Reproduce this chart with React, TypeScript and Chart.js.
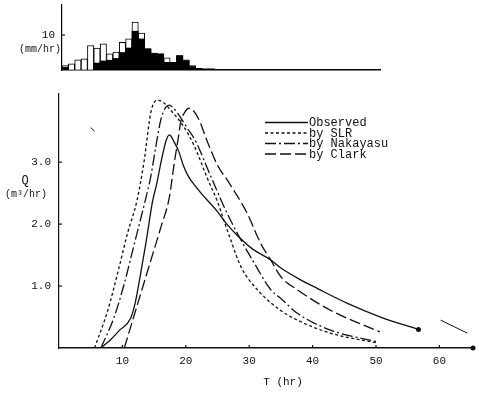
import React, { useEffect, useRef } from 'react';
import { Chart, registerables } from 'chart.js';

Chart.register(...registerables);

const FONT = '"Liberation Mono", "DejaVu Sans Mono", monospace';
const INK = '#111';

// ---- Hyetograph (rainfall, mm/hr), one bar per hour ----
const rainHours = [0, 1, 2, 3, 4, 5, 6, 7, 8, 9, 10, 11, 12, 13, 14, 15, 16, 17, 18, 19, 20, 21, 22, 23, 24, 25, 26, 27];
const rainTotal = [1.3, 1.8, 2.9, 3.2, 7.0, 6.3, 7.5, 4.6, 5.1, 7.9, 8.9, 13.7, 10.6, 6.1, 4.8, 4.6, 3.5, 2.2, 4.1, 2.9, 1.3, 0.5, 0.3, 0.3, 0.2, 0.2, 0.2, 0.2];
const rainEffective = [0.8, 0, 0, 0, 0, 2.0, 2.6, 2.8, 3.3, 5.0, 6.3, 11.1, 8.9, 6.0, 4.8, 4.6, 2.2, 2.0, 4.1, 2.7, 1.0, 0.4, 0.3, 0.3, 0.2, 0.2, 0.2, 0.2];
const rainTickValues = [10];

// ---- Hydrographs (T hr, Q) ----
const observedT = [6.6, 8.0, 9.5, 11.3, 12.0, 12.6, 13.7, 14.8, 15.3, 16.3, 16.9, 17.4, 18.2, 18.9, 19.6, 20.3, 21.0, 22.4, 25.0, 26.3, 28.1, 30.5, 33.4, 35.0, 38.1, 40.2, 45.5, 50.7, 56.7];
const observedQ = [0, 0.12, 0.28, 0.48, 0.72, 1.04, 1.69, 2.39, 2.6, 3.1, 3.35, 3.44, 3.32, 3.17, 2.95, 2.79, 2.68, 2.5, 2.2, 2.02, 1.82, 1.6, 1.42, 1.29, 1.1, 0.99, 0.72, 0.5, 0.3];

const slrT = [5.6, 7.7, 9.5, 10.8, 12.3, 13.4, 14.5, 15.5, 16.5, 17.6, 19.5, 21.3, 23.4, 25.0, 26.0, 27.1, 28.7, 31.3, 34.9, 37.6, 42.8, 50.2];
const slrQ = [0, 0.61, 1.31, 1.85, 2.38, 3.0, 3.81, 4.0, 3.96, 3.84, 3.6, 3.27, 2.74, 2.36, 2.06, 1.74, 1.31, 0.94, 0.61, 0.45, 0.24, 0.08];

const nakayasuT = [6.6, 8.7, 10.3, 11.9, 13.6, 14.5, 15.3, 16.1, 16.8, 17.4, 18.0, 18.7, 20.3, 21.6, 23.4, 24.2, 26.3, 28.4, 30.8, 33.4, 35.0, 37.6, 42.8, 50.2];
const nakayasuQ = [0, 0.5, 1.04, 1.69, 2.38, 2.78, 3.27, 3.7, 3.88, 3.92, 3.88, 3.79, 3.54, 3.33, 2.9, 2.71, 2.22, 1.8, 1.37, 0.94, 0.8, 0.56, 0.29, 0.1];

const clarkT = [10.3, 12.1, 14.5, 16.1, 17.4, 18.2, 18.8, 19.2, 19.8, 20.5, 21.2, 22.1, 23.4, 25.0, 26.8, 29.7, 31.8, 33.4, 35.0, 37.6, 42.8, 50.6];
const clarkQ = [0, 0.61, 1.42, 1.96, 2.43, 3.0, 3.38, 3.65, 3.8, 3.87, 3.83, 3.68, 3.33, 2.95, 2.67, 2.17, 1.69, 1.42, 1.15, 0.94, 0.61, 0.26];

// stray pen marks visible on the original sheet
const strayRightT = [60.2, 64.4];
const strayRightQ = [0.45, 0.24];
const strayLeftT = [5.0, 5.6];
const strayLeftQ = [3.56, 3.5];

const seriesLabels = ['Observed', 'by SLR', 'by Nakayasu', 'by Clark'];
const xTickValues = [10, 20, 30, 40, 50, 60];
const yTickValues = [1, 2, 3];

const toPts = (t: number[], q: number[]) => t.map((v, i) => ({ x: v, y: q[i] }));

const noPad = (s: any) => {
  s.paddingTop = 0;
  s.paddingBottom = 0;
  s.paddingLeft = 0;
  s.paddingRight = 0;
};

export default function App() {
  const topRef = useRef<HTMLCanvasElement>(null);
  const mainRef = useRef<HTMLCanvasElement>(null);

  useEffect(() => {
    const inwardTick = (ctx: CanvasRenderingContext2D, x1: number, y1: number, x2: number, y2: number) => {
      ctx.beginPath();
      ctx.moveTo(x1, y1);
      ctx.lineTo(x2, y2);
      ctx.stroke();
    };

    const topDecor = {
      id: 'topDecor',
      afterDraw(chart: any) {
        const { ctx, chartArea, scales } = chart;
        ctx.save();
        ctx.strokeStyle = INK;
        ctx.lineWidth = 1.2;
        rainTickValues.forEach((v) => {
          const y = scales.y.getPixelForValue(v);
          inwardTick(ctx, chartArea.left, y, chartArea.left + 3, y);
        });
        ctx.fillStyle = INK;
        ctx.font = '10px ' + FONT;
        ctx.textAlign = 'center';
        ctx.textBaseline = 'middle';
        ctx.fillText('(mm/hr)', 40, 49);
        ctx.restore();
      },
    };

    const top = new Chart(topRef.current!, {
      type: 'bar',
      data: {
        datasets: [
          {
            label: 'Effective rainfall',
            data: rainHours.map((h, i) => ({ x: h + 0.5, y: rainEffective[i] })),
            backgroundColor: '#000',
            borderWidth: 0,
            grouped: false,
            barPercentage: 1,
            categoryPercentage: 1,
          } as any,
          {
            label: 'Total rainfall',
            data: rainHours.map((h, i) => ({ x: h + 0.5, y: rainTotal[i] })),
            backgroundColor: '#fff',
            borderColor: '#000',
            borderWidth: 1,
            grouped: false,
            barPercentage: 1,
            categoryPercentage: 1,
          } as any,
        ],
      },
      options: {
        animation: false,
        responsive: false,
        devicePixelRatio: 1,
        layout: { padding: { left: 0, top: 5, right: 99, bottom: 0 } },
        plugins: { legend: { display: false }, tooltip: { enabled: false } },
        scales: {
          x: {
            type: 'linear',
            min: 0,
            max: 50,
            offset: false,
            grid: { display: false, drawTicks: false },
            border: { display: true, color: '#000', width: 1.5 },
            ticks: { display: false },
            afterFit: (s: any) => { s.height = 10; noPad(s); },
          },
          y: {
            min: 0,
            max: 18.6,
            grid: { display: false, drawTicks: false },
            border: { display: true, color: '#000', width: 1.2 },
            ticks: { font: { family: FONT, size: 11 }, color: INK, padding: 7, autoSkip: false },
            afterBuildTicks: (s: any) => { s.ticks = rainTickValues.map((v) => ({ value: v })); },
            afterFit: (s: any) => { s.width = 62; noPad(s); },
          },
        },
      } as any,
      plugins: [topDecor],
    });

    const mainDecor = {
      id: 'mainDecor',
      afterDraw(chart: any) {
        const { ctx, chartArea, scales } = chart;
        ctx.save();
        ctx.strokeStyle = INK;
        ctx.fillStyle = INK;
        ctx.lineWidth = 1.2;
        xTickValues.forEach((v) => {
          const x = scales.x.getPixelForValue(v);
          inwardTick(ctx, x, chartArea.bottom, x, chartArea.bottom - 3);
        });
        yTickValues.forEach((v) => {
          const y = scales.y.getPixelForValue(v);
          inwardTick(ctx, chartArea.left, y, chartArea.left + 3, y);
        });
        // axis end dot
        ctx.beginPath();
        ctx.arc(scales.x.getPixelForValue(scales.x.max), chartArea.bottom, 2.5, 0, Math.PI * 2);
        ctx.fill();

        // legend
        const rows = [42.5, 53, 63.5, 74];
        chart.data.datasets.slice(0, 4).forEach((ds: any, i: number) => {
          ctx.save();
          ctx.lineWidth = 1.3;
          ctx.setLineDash(ds.borderDash || []);
          ctx.beginPath();
          ctx.moveTo(265, rows[i]);
          ctx.lineTo(308, rows[i]);
          ctx.stroke();
          ctx.restore();
          ctx.font = '12px ' + FONT;
          ctx.textAlign = 'left';
          ctx.textBaseline = 'middle';
          ctx.fillText(ds.label, 309, rows[i] + 0.5);
        });

        // axis titles
        ctx.textAlign = 'center';
        ctx.textBaseline = 'middle';
        ctx.font = '12px ' + FONT;
        ctx.fillText('Q', 25, 101);
        ctx.font = '10px ' + FONT;
        ctx.fillText('(m\u00b3/hr)', 26, 114);
        ctx.font = '11px ' + FONT;
        ctx.fillText('T (hr)', 283, 302);
        ctx.restore();
      },
    };

    const lineDs = (label: string, t: number[], q: number[], dash: number[], extra: any = {}) => ({
      label,
      data: toPts(t, q),
      borderColor: INK,
      backgroundColor: INK,
      borderWidth: 1.3,
      borderDash: dash,
      pointRadius: 0,
      fill: false,
      cubicInterpolationMode: 'monotone',
      ...extra,
    });

    const main = new Chart(mainRef.current!, {
      type: 'line',
      data: {
        datasets: [
          lineDs(seriesLabels[0], observedT, observedQ, [], {
            pointRadius: (c: any) => (c.dataIndex === observedT.length - 1 ? 2.5 : 0),
            pointBackgroundColor: INK,
            pointBorderWidth: 0,
          }),
          lineDs(seriesLabels[1], slrT, slrQ, [3, 2.5]),
          lineDs(seriesLabels[2], nakayasuT, nakayasuQ, [11, 3, 2, 3]),
          lineDs(seriesLabels[3], clarkT, clarkQ, [11, 4]),
          lineDs('', strayRightT, strayRightQ, [], { borderWidth: 1 }),
          lineDs('', strayLeftT, strayLeftQ, [], { borderWidth: 1 }),
        ] as any,
      },
      options: {
        animation: false,
        responsive: false,
        devicePixelRatio: 1,
        layout: { padding: { left: 0, top: 14, right: 6, bottom: 0 } },
        plugins: { legend: { display: false }, tooltip: { enabled: false } },
        scales: {
          x: {
            type: 'linear',
            min: 0,
            max: 65.3,
            grid: { display: false, drawTicks: false },
            border: { display: true, color: INK, width: 1.5 },
            ticks: { font: { family: FONT, size: 11 }, color: INK, padding: 6, maxRotation: 0, autoSkip: false },
            afterBuildTicks: (s: any) => { s.ticks = xTickValues.map((v) => ({ value: v })); },
            afterFit: (s: any) => { s.height = 48; noPad(s); },
          },
          y: {
            type: 'linear',
            min: 0,
            max: 4.1,
            grid: { display: false, drawTicks: false },
            border: { display: true, color: INK, width: 1.2 },
            ticks: {
              font: { family: FONT, size: 11 },
              color: INK,
              padding: 8,
              autoSkip: false,
              callback: (v: any) => Number(v).toFixed(1),
            },
            afterBuildTicks: (s: any) => { s.ticks = yTickValues.map((v) => ({ value: v })); },
            afterFit: (s: any) => { s.width = 59; noPad(s); },
          },
        },
      } as any,
      plugins: [mainDecor],
    });

    return () => {
      top.destroy();
      main.destroy();
    };
  }, []);

  return (
    <div style={{ position: 'fixed', left: 0, top: 0, width: 479, height: 396, background: '#fff', overflow: 'hidden' }}>
      <canvas ref={topRef} width={479} height={80} style={{ position: 'absolute', left: 0, top: 0 }} />
      <canvas ref={mainRef} width={479} height={316} style={{ position: 'absolute', left: 0, top: 80 }} />
    </div>
  );
}
